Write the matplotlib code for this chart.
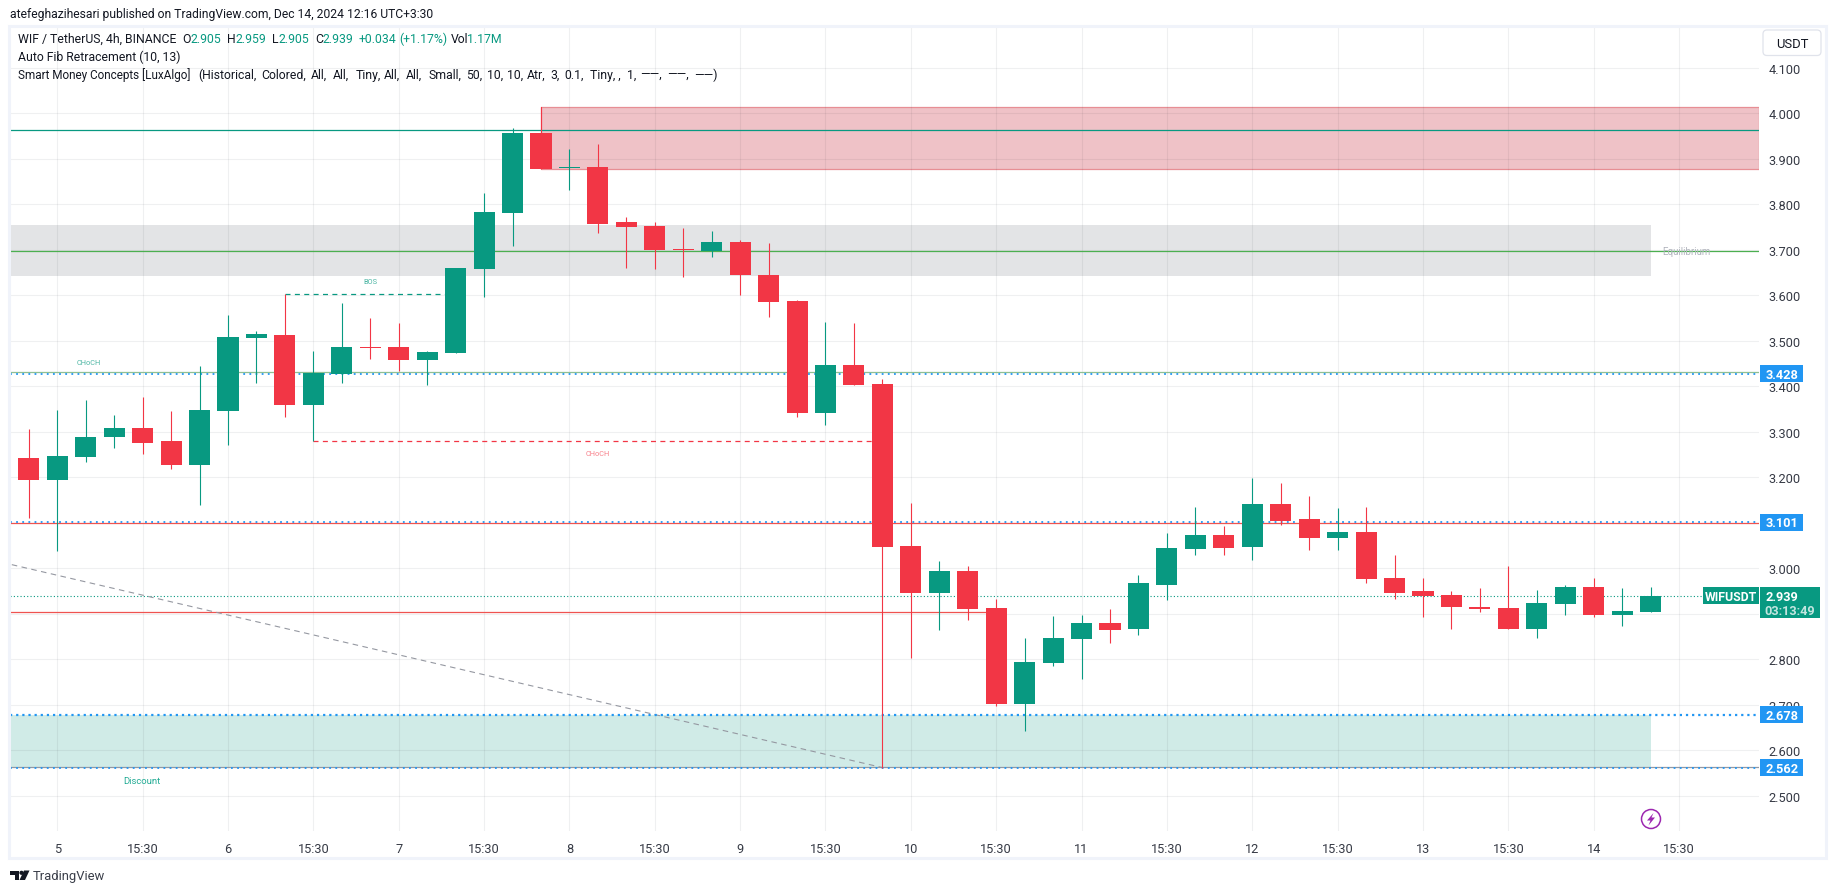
import matplotlib
matplotlib.use('Agg')
import matplotlib.pyplot as plt
from matplotlib.patches import Rectangle, FancyBboxPatch, Polygon, Circle

plt.rcParams['font.family'] = ['Roboto', 'DejaVu Sans']

# 4h candles, first one is the last bar of Dec 4
opens = [3.242, 3.194, 3.245, 3.288, 3.308, 3.280, 3.227, 3.346, 3.506, 3.513,
         3.359, 3.427, 3.486, 3.486, 3.458, 3.473, 3.658, 3.781, 3.957, 3.879,
         3.882, 3.761, 3.752, 3.702, 3.697, 3.717, 3.645, 3.587, 3.341, 3.447,
         3.405, 3.049, 2.946, 2.994, 2.913, 2.702, 2.792, 2.845, 2.880, 2.866,
         2.963, 3.042, 3.073, 3.047, 3.141, 3.108, 3.067, 3.080, 2.979, 2.950,
         2.941, 2.915, 2.913, 2.867, 2.922, 2.959, 2.897, 2.905]
highs = [3.306, 3.348, 3.370, 3.337, 3.376, 3.346, 3.445, 3.557, 3.521, 3.602,
         3.477, 3.583, 3.550, 3.539, 3.477, 3.660, 3.825, 3.968, 3.957, 3.921,
         3.933, 3.772, 3.761, 3.748, 3.741, 3.721, 3.715, 3.590, 3.541, 3.539,
         3.416, 3.143, 3.016, 3.005, 2.932, 2.847, 2.895, 2.897, 2.910, 2.985,
         3.077, 3.135, 3.093, 3.198, 3.187, 3.159, 3.132, 3.135, 3.029, 2.979,
         2.950, 2.957, 3.005, 2.952, 2.963, 2.979, 2.957, 2.959]
lows = [3.110, 3.039, 3.234, 3.264, 3.251, 3.218, 3.139, 3.271, 3.407, 3.332,
        3.279, 3.407, 3.460, 3.434, 3.403, 3.473, 3.597, 3.708, 3.878, 3.831,
        3.737, 3.660, 3.658, 3.640, 3.684, 3.601, 3.552, 3.332, 3.315, 3.403,
        2.562, 2.803, 2.864, 2.886, 2.697, 2.642, 2.785, 2.757, 2.836, 2.853,
        2.930, 3.029, 3.029, 3.018, 3.095, 3.040, 3.040, 2.968, 2.933, 2.893,
        2.867, 2.904, 2.867, 2.847, 2.897, 2.893, 2.873, 2.905]
closes = [3.194, 3.247, 3.288, 3.308, 3.275, 3.227, 3.348, 3.508, 3.515, 3.359,
          3.429, 3.486, 3.485, 3.458, 3.475, 3.660, 3.783, 3.957, 3.878, 3.881,
          3.757, 3.750, 3.699, 3.700, 3.717, 3.645, 3.585, 3.341, 3.447, 3.403,
          3.047, 2.946, 2.994, 2.910, 2.702, 2.794, 2.847, 2.880, 2.864, 2.968,
          3.044, 3.073, 3.044, 3.141, 3.104, 3.067, 3.080, 2.976, 2.946, 2.939,
          2.915, 2.911, 2.867, 2.924, 2.959, 2.897, 2.906, 2.939]

price_ticks = [2.5, 2.6, 2.7, 2.8, 2.9, 3.0, 3.1, 3.2, 3.3, 3.4, 3.5, 3.6, 3.7, 3.8, 3.9, 4.0, 4.1]
# these two sit fully behind the price tags
hidden_ticks = [2.9, 3.1]
time_ticks = [1, 4, 7, 10, 13, 16, 19, 22, 25, 28, 31, 34, 37, 40, 43, 46, 49, 52, 55, 58]
time_labels = ['5', '15:30', '6', '15:30', '7', '15:30', '8', '15:30', '9', '15:30',
               '10', '15:30', '11', '15:30', '12', '15:30', '13', '15:30', '14', '15:30']

supply_top, supply_bottom = 4.013, 3.877
equil_top, equil_bottom = 3.754, 3.643
discount_top, discount_bottom = 2.678, 2.562
fib_high, fib_mid, fib_low = 3.963, 3.697, 2.903
bos_level, choch_down_level = 3.602, 3.279
blue_levels = [3.428, 3.101, 2.678, 2.562]
last_price = 2.939
fib_trend_x = [-0.6, 30]
fib_trend_y = [3.008, 2.562]

GREEN = '#089981'
RED = '#f23645'
BLUE = '#2196f3'
TEXT = '#131722'
AXIS_TEXT = '#363a45'

W, H = 1835, 895
fig = plt.figure(figsize=(W / 100, H / 100), dpi=100, facecolor='white')
ax = fig.add_axes([10 / W, 1 - 832 / H, 1748.7 / W, 806 / H])
ax.set_xlim(-0.663, 60.80)
ax.set_ylim(2.4226, 4.1941)
for s in ax.spines.values():
    s.set_visible(False)

ax.set_axisbelow('line')
ax.grid(True, color='#2a2e39', alpha=0.07, lw=0.8)
ax.set_yticks(price_ticks)
ax.set_yticklabels(['' if p in hidden_ticks else '%.3f' % p for p in price_ticks])
ax.set_xticks(time_ticks)
ax.set_xticklabels(time_labels)
ax.yaxis.tick_right()
ax.tick_params(axis='y', length=0, pad=7, labelsize=9.2, labelcolor=AXIS_TEXT)
ax.tick_params(axis='x', length=0, pad=8, labelsize=9.2, labelcolor=AXIS_TEXT)

# zones
xl, xr = ax.get_xlim()
ax.add_patch(Rectangle((18, supply_bottom), xr - 18, supply_top - supply_bottom,
                       fc=(0.80, 0.22, 0.28, 0.30), ec='#e78e94', lw=0.9, zorder=1))
ax.add_patch(Rectangle((xl, equil_bottom), 57 - xl, equil_top - equil_bottom,
                       fc='#e3e4e6', ec='none', zorder=1))
ax.add_patch(Rectangle((xl, discount_bottom), 57 - xl, discount_top - discount_bottom,
                       fc=(0.03, 0.60, 0.51, 0.19), ec='none', zorder=1))

# levels
ax.axhline(fib_high, color=GREEN, lw=0.9, zorder=2)
ax.axhline(fib_mid, color='#4caf50', lw=0.9, zorder=2)
ax.axhline(3.431, color='#8fbf93', lw=0.9, zorder=2)
ax.axhline(3.100, color='#ef5350', lw=0.9, zorder=2)
ax.plot([xl, 34], [fib_low, fib_low], color='#ef5350', lw=0.9, zorder=2)
ax.axhline(2.563, color='#9598a1', lw=0.9, zorder=2)
for lev in blue_levels:
    w = 1.6 if lev == 2.678 else 1.3
    ax.axhline(lev, color=BLUE, lw=w, ls=(0, (1, 3.4 * 1.3 / w - 1)), zorder=2.1)
ax.axhline(last_price, color=GREEN, lw=0.8, ls=(0, (1, 2)), zorder=2)
ax.plot(fib_trend_x, fib_trend_y, color='#9598a1', lw=0.8, ls=(0, (5, 4)), zorder=2)

ax.plot([9, 15], [bos_level, bos_level], color=GREEN, lw=0.9, ls=(0, (4, 3.5)), zorder=2)
ax.plot([10, 30], [choch_down_level, choch_down_level], color=RED, lw=0.9, ls=(0, (4, 3.5)), zorder=2)
ax.plot([18, 18], [3.957, supply_top], color=RED, lw=0.8, zorder=2)

ax.text(12, 3.631, 'BOS', color='#4db6a4', fontsize=5.3, ha='center', va='center')
ax.text(2.1, 3.452, 'CHoCH', color='#4db6a4', fontsize=5.3, ha='center', va='center')
ax.text(20, 3.253, 'CHoCH', color='#f8808a', fontsize=5.3, ha='center', va='center')
ax.text(3.98, 2.533, 'Discount', color='#22ab94', fontsize=6.8, ha='center', va='center')
ax.text(58.25, 3.697, 'Equilibrium', color='#b2b5be', fontsize=7, ha='center', va='center')

# candles
for i in range(len(opens)):
    c = GREEN if closes[i] >= opens[i] else RED
    ax.vlines(i, lows[i], highs[i], color=c, lw=0.8, zorder=3)
    bottom = min(opens[i], closes[i])
    ax.bar(i, abs(closes[i] - opens[i]), 0.74, bottom=bottom, color=c, lw=0, zorder=3.1)

# price tags on the axis, x in axes fraction and y in price
trans = ax.get_yaxis_transform()
ax_w = 1748.7
for lev in blue_levels:
    ax.add_patch(Rectangle((1 + 1.3 / ax_w, lev - 0.0185), 43 / ax_w, 0.037, fc=BLUE, ec='none',
                           transform=trans, clip_on=False, zorder=6))
    ax.text(1 + 23.5 / ax_w, lev - 0.001, '%.3f' % lev, color='white', fontsize=9.2, weight='bold',
            ha='center', va='center', transform=trans, clip_on=False, zorder=7)
ax.add_patch(Rectangle((1 + 1.3 / ax_w, last_price - 0.0485), 60 / ax_w, 0.0685, fc=GREEN, ec='none',
                       transform=trans, clip_on=False, zorder=6))
ax.text(1 + 23.5 / ax_w, last_price - 0.001, '%.3f' % last_price, color='white', fontsize=9.2, weight='bold',
        ha='center', va='center', transform=trans, clip_on=False, zorder=7)
ax.text(1 + 31 / ax_w, last_price - 0.032, '03:13:49', color='#c2e5df', fontsize=9.2, weight='bold',
        ha='center', va='center', transform=trans, clip_on=False, zorder=7)
ax.add_patch(Rectangle((1 - 55.5 / ax_w, last_price - 0.0185), 55.5 / ax_w, 0.0385, fc=GREEN, ec='none',
                       transform=trans, clip_on=False, zorder=6))
ax.text(1 - 28 / ax_w, last_price, 'WIFUSDT', color='white', fontsize=8.8, weight='bold',
        ha='center', va='center', transform=trans, clip_on=False, zorder=7)

# page furniture in pixel coordinates
px = fig.add_axes([0, 0, 1, 1], facecolor='none')
px.set_xlim(0, W)
px.set_ylim(H, 0)
px.axis('off')
px.add_patch(Rectangle((9, 27), 1816.5, 832, fc='none', ec='#f0f3fa', lw=2.2))

px.add_patch(FancyBboxPatch((1765, 33), 54, 21.5, boxstyle='round,pad=2,rounding_size=4',
                            fc='white', ec='#e0e3eb', lw=0.9))
px.text(1792, 44, 'USDT', color=TEXT, fontsize=9.4, ha='center', va='center')

px.text(10, 14.5, 'atefeghazihesari published on TradingView.com, Dec 14, 2024 12:16 UTC+3:30',
        color=TEXT, fontsize=8.75, va='center')

legend_row = [(18, 'WIF / TetherUS, 4h, BINANCE', TEXT), (182, 'O', TEXT), (190, '2.905', GREEN),
              (227, 'H', TEXT), (235, '2.959', GREEN), (272, 'L', TEXT), (278, '2.905', GREEN),
              (315, 'C', TEXT), (322, '2.939', GREEN), (359, '+0.034', GREEN), (399, '(+1.17%)', GREEN),
              (451, 'Vol', TEXT), (467, '1.17M', GREEN)]
for x, s, c in legend_row:
    px.text(x, 39.5, s, color=c, fontsize=8.8, va='center')
px.text(18, 57.5, 'Auto Fib Retracement (10, 13)', color=TEXT, fontsize=8.8, va='center')
# the original font has wider spaces, so the long row is set piece by piece
smc_row = [(18, 'Smart Money Concepts [LuxAlgo]'), (198.7, '(Historical,'), (261, 'Colored,'),
           (310.7, 'All,'), (333.3, 'All,'), (356, 'Tiny,'),
           (384, 'All,'), (406, 'All,'), (428.3, 'Small,'), (465.7, '50,'), (486.7, '10,'), (507.3, '10,'),
           (527, 'Atr,'), (550, '3,'), (564.3, '0.1,'), (590, 'Tiny, ,'), (627, '1,'),
           (640.5, '\u2014\u2014,'), (667, '\u2014\u2014,'), (694, '\u2014\u2014)')]
px.text(smc_row[0][0], 75.5, smc_row[0][1], color=TEXT, fontsize=8.5, va='center')
for x, s in smc_row[1:]:
    px.text(x, 75.5, s, color=TEXT, fontsize=8.8, va='center')

# replay bolt
px.add_patch(Circle((1651, 820), 9.5, fc='white', ec='#9c27b0', lw=1.1))
px.add_patch(Polygon([(1653.5, 814), (1647, 821.5), (1650.5, 821.5), (1648.5, 826.5),
                      (1655, 818.5), (1651.5, 818.5)], fc='#9c27b0', ec='none'))

# TradingView logo
px.add_patch(Polygon([(10, 871.5), (19, 871.5), (19, 881), (14.5, 881), (14.5, 875.5), (10, 875.5)],
                     fc=TEXT, ec='none'))
px.add_patch(Circle((21.5, 873.8), 2.1, fc=TEXT, ec='none'))
px.add_patch(Polygon([(24, 871.5), (29.5, 871.5), (25, 881), (19.5, 881)], fc=TEXT, ec='none'))
px.text(33, 877, 'TradingView', color='#3a3e49', fontsize=9.4, va='center')

fig.savefig('out.png', dpi=100)
